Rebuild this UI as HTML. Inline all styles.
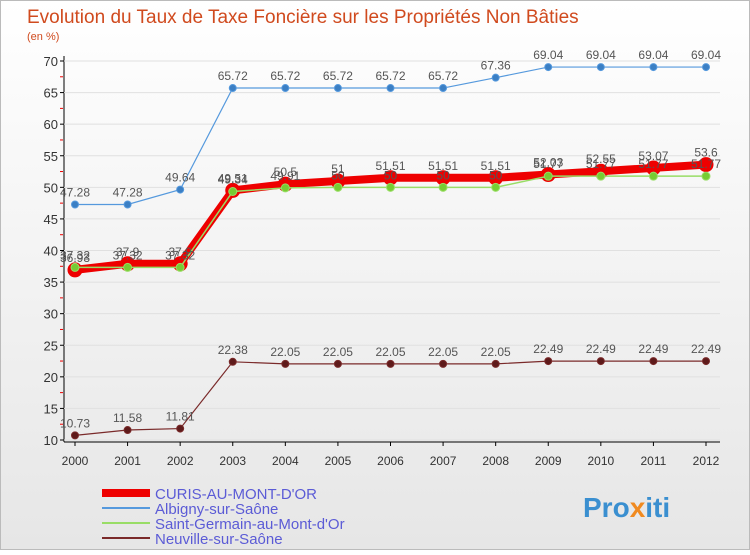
<!DOCTYPE html>
<html><head><meta charset="utf-8"><style>
body{margin:0;background:#fff;font-family:"Liberation Sans",sans-serif}
svg text{font-family:"Liberation Sans",sans-serif}
</style></head><body>
<svg width="750" height="550" xmlns="http://www.w3.org/2000/svg">
<defs><linearGradient id="bg" x1="0" y1="0" x2="0" y2="1"><stop offset="0" stop-color="#ffffff"/><stop offset="1" stop-color="#e6e6e6"/></linearGradient></defs>
<rect x="0.5" y="0.5" width="749" height="549" fill="url(#bg)" stroke="#bbb"/>
<text x="27" y="23" font-size="19" fill="#d04a1e">Evolution du Taux de Taxe Foncière sur les Propriétés Non Bâties</text>
<text x="27" y="40" font-size="11" fill="#d04a1e">(en %)</text>
<g id="axes"></g><g id="series"></g><g id="legend"></g>
<text x="583" y="517" font-size="28" font-weight="bold" fill="#3a8fd0">Pro<tspan fill="#f08a20">x</tspan>iti</text>
</svg>
<script>
const years=[2000,2001,2002,2003,2004,2005,2006,2007,2008,2009,2010,2011,2012];
const yTicks=[10,15,20,25,30,35,40,45,50,55,60,65,70];
const curis=[36.93,37.9,37.9,49.51,50.5,51,51.51,51.51,51.51,52.03,52.55,53.07,53.6];
const albigny=[47.28,47.28,49.64,65.72,65.72,65.72,65.72,65.72,67.36,69.04,69.04,69.04,69.04];
const stgermain=[37.32,37.32,37.32,49.34,49.91,50,50,50,50,51.77,51.77,51.77,51.77];
const neuville=[10.73,11.58,11.81,22.38,22.05,22.05,22.05,22.05,22.05,22.49,22.49,22.49,22.49];
const names=["CURIS-AU-MONT-D'OR","Albigny-sur-Saône","Saint-Germain-au-Mont-d'Or","Neuville-sur-Saône"];
const NS="http://www.w3.org/2000/svg";
const X=i=>75+i*(706-75)/12, Y=v=>440-(v-10)*(440-61)/60;
function mk(t,a,p){const e=document.createElementNS(NS,t);for(const k in a)e.setAttribute(k,a[k]);p.appendChild(e);return e;}
const ax=document.getElementById('axes');
const yl=mk('line',{x1:64,y1:56,x2:64,y2:442,stroke:'#000'},ax);


const xl=mk('line',{x1:64,y1:442,x2:720,y2:442,stroke:'#000'},ax);


yTicks.forEach(v=>{const y=Y(v);
 mk('line',{x1:60,x2:64,y1:y,y2:y,stroke:'#000'},ax);
 mk('line',{x1:64,x2:720,y1:y,y2:y,stroke:'#e0e0e0'},ax);
 if(v<70){mk('line',{x1:60,x2:63,y1:Y(v+2.5),y2:Y(v+2.5),stroke:'#e00'},ax);}
 const t=mk('text',{x:58,y:y+5,'font-size':13,'text-anchor':'end',fill:'#333'},ax);t.textContent=v;
 
 });
years.forEach((yr,i)=>{const t=mk('text',{x:X(i),y:465,'font-size':12,'text-anchor':'middle',fill:'#333'},ax);t.textContent=yr;
 
 
 mk('line',{x1:X(i),x2:X(i),y1:442,y2:446,stroke:'#000'},ax);});
const sg=document.getElementById('series');
function series(data,color,w,r,dot,name){const g=mk('g',{},sg);
 
 
 mk('polyline',{points:data.map((v,i)=>X(i)+','+Y(v)).join(' '),fill:'none',stroke:color,'stroke-width':w},g);
 data.forEach((v,i)=>{const c=mk('circle',{cx:X(i),cy:Y(v),r:r,fill:dot,stroke:color,'stroke-width':1},g);
  
  
  const t=mk('text',{x:X(i),y:Y(v)-8,'font-size':12,'text-anchor':'middle',fill:'#555'},g);t.textContent=v;
  
  });}
series(albigny,'#5599dd',1.2,3.5,'#3b7fc4','series-albigny');
series(neuville,'#7a2a2a',1.2,3.5,'#5e1a1a','series-neuville');
series(curis,'#ee0000',8,7,'#ee0000','series-curis');
series(stgermain,'#99dd66',1.5,4,'#77cc33','series-saint-germain');
const lg=document.getElementById('legend');
const lc=[['#ee0000',8],['#5599dd',2],['#99dd66',2],['#7a2a2a',2]];
names.forEach((n,i)=>{const y=493+i*15;
 const l=mk('line',{x1:102,x2:150,y1:y,y2:y,stroke:lc[i][0],'stroke-width':lc[i][1]},lg);
 
 
 const t=mk('text',{x:155,y:y+6,'font-size':15,fill:'#5b5bd6'},lg);t.textContent=n;
 
 });
</script>
</body></html>
